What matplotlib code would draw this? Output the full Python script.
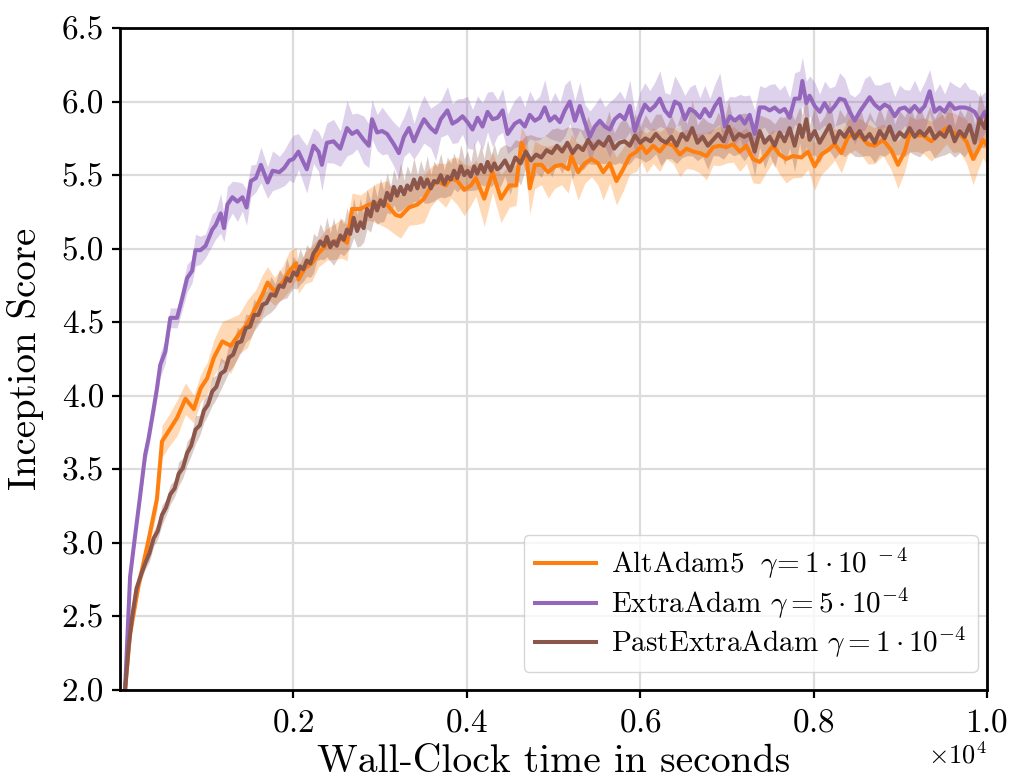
import numpy as np
import matplotlib
matplotlib.use("Agg")
import matplotlib.pyplot as plt
from matplotlib.ticker import ScalarFormatter

plt.rcParams['font.family'] = 'serif'
plt.rcParams['font.serif'] = ['cmr10']
plt.rcParams['mathtext.fontset'] = 'cm'
plt.rcParams['axes.unicode_minus'] = False
plt.rcParams['axes.formatter.use_mathtext'] = True

# AltAdam5, gamma = 1e-4  (time in seconds, mean inception score, spread)
alt_t = [58, 116, 213, 329, 426, 484, 561, 658, 755, 851,
         929, 1006, 1083, 1180, 1277, 1373, 1470, 1567, 1644, 1702,
         1780, 1876, 1954, 2031, 2058, 2135, 2212, 2290, 2386, 2483,
         2560, 2618, 2676, 2772, 2869, 2965, 3081, 3178, 3236, 3332,
         3429, 3506, 3583, 3660, 3757, 3815, 3892, 3969, 4046, 4104,
         4201, 4297, 4394, 4490, 4568, 4630, 4688, 4726, 4784, 4861,
         4938, 5015, 5092, 5169, 5207, 5284, 5361, 5438, 5515, 5572,
         5649, 5726, 5803, 5880, 5957, 6015, 6072, 6149, 6226, 6303,
         6380, 6457, 6534, 6611, 6688, 6764, 6841, 6918, 6995, 7072,
         7149, 7224, 7301, 7378, 7454, 7531, 7608, 7685, 7762, 7858,
         7935, 8012, 8089, 8166, 8243, 8320, 8397, 8473, 8550, 8627,
         8704, 8800, 8896, 8973, 9050, 9108, 9185, 9262, 9358, 9454,
         9531, 9608, 9685, 9762, 9839, 9896, 9954, 10000]
alt_is = [2.00, 2.38, 2.71, 3.02, 3.30, 3.69, 3.76, 3.85, 3.98, 3.91,
          4.05, 4.12, 4.26, 4.37, 4.34, 4.42, 4.49, 4.60, 4.69, 4.77,
          4.71, 4.77, 4.85, 4.90, 4.79, 4.87, 4.90, 4.97, 5.03, 5.05,
          5.07, 5.04, 5.27, 5.27, 5.30, 5.31, 5.30, 5.23, 5.22, 5.28,
          5.30, 5.34, 5.42, 5.46, 5.43, 5.48, 5.46, 5.40, 5.43, 5.48,
          5.34, 5.52, 5.34, 5.43, 5.43, 5.72, 5.63, 5.41, 5.57, 5.57,
          5.52, 5.56, 5.57, 5.54, 5.63, 5.52, 5.58, 5.61, 5.58, 5.52,
          5.58, 5.46, 5.54, 5.63, 5.66, 5.70, 5.65, 5.70, 5.66, 5.72,
          5.70, 5.64, 5.68, 5.66, 5.65, 5.63, 5.69, 5.70, 5.69, 5.71,
          5.66, 5.70, 5.61, 5.59, 5.64, 5.70, 5.64, 5.61, 5.63, 5.62,
          5.66, 5.56, 5.64, 5.67, 5.71, 5.65, 5.76, 5.78, 5.76, 5.71,
          5.70, 5.74, 5.67, 5.57, 5.66, 5.78, 5.77, 5.77, 5.73, 5.78,
          5.82, 5.79, 5.78, 5.73, 5.61, 5.67, 5.74, 5.70]
alt_sd = [0.01, 0.03, 0.04, 0.05, 0.06, 0.08, 0.08, 0.09, 0.08, 0.07,
          0.07, 0.08, 0.09, 0.10, 0.14, 0.10, 0.12, 0.09, 0.10, 0.08,
          0.07, 0.08, 0.10, 0.08, 0.07, 0.08, 0.09, 0.07, 0.08, 0.09,
          0.10, 0.09, 0.08, 0.07, 0.08, 0.10, 0.12, 0.10, 0.11, 0.09,
          0.10, 0.12, 0.10, 0.09, 0.11, 0.10, 0.12, 0.13, 0.10, 0.09,
          0.14, 0.10, 0.12, 0.11, 0.10, 0.08, 0.10, 0.13, 0.12, 0.10,
          0.13, 0.11, 0.10, 0.12, 0.11, 0.14, 0.10, 0.09, 0.11, 0.14,
          0.10, 0.12, 0.11, 0.09, 0.10, 0.08, 0.10, 0.09, 0.10, 0.08,
          0.09, 0.11, 0.10, 0.09, 0.10, 0.12, 0.09, 0.10, 0.08, 0.09,
          0.10, 0.09, 0.12, 0.11, 0.09, 0.08, 0.10, 0.12, 0.11, 0.10,
          0.09, 0.12, 0.10, 0.09, 0.08, 0.10, 0.09, 0.08, 0.09, 0.10,
          0.09, 0.08, 0.10, 0.12, 0.10, 0.09, 0.08, 0.09, 0.10, 0.09,
          0.08, 0.10, 0.09, 0.11, 0.13, 0.10, 0.09, 0.10]

# ExtraAdam, gamma = 5e-4
extra_t = [58, 116, 174, 232, 290, 329, 387, 426, 464, 522,
           580, 658, 716, 774, 832, 870, 929, 987, 1064, 1103,
           1161, 1199, 1238, 1296, 1354, 1412, 1459, 1509, 1567, 1625,
           1702, 1760, 1838, 1896, 1954, 2000, 2058, 2097, 2154, 2232,
           2290, 2328, 2386, 2463, 2541, 2618, 2676, 2734, 2811, 2869,
           2907, 2965, 3023, 3081, 3158, 3216, 3274, 3332, 3390, 3448,
           3506, 3583, 3641, 3699, 3776, 3834, 3892, 3950, 4008, 4066,
           4124, 4181, 4239, 4297, 4355, 4413, 4471, 4553, 4611, 4669,
           4726, 4784, 4842, 4899, 4957, 5015, 5073, 5130, 5188, 5246,
           5303, 5361, 5419, 5476, 5534, 5592, 5649, 5707, 5765, 5822,
           5880, 5938, 5995, 6053, 6111, 6169, 6226, 6284, 6342, 6399,
           6457, 6515, 6572, 6630, 6688, 6745, 6803, 6861, 6918, 6976,
           7034, 7091, 7149, 7205, 7262, 7320, 7378, 7435, 7493, 7551,
           7608, 7666, 7724, 7781, 7839, 7870, 7916, 7954, 8012, 8070,
           8127, 8185, 8243, 8300, 8358, 8416, 8473, 8531, 8589, 8646,
           8704, 8762, 8819, 8877, 8935, 8992, 9050, 9108, 9165, 9223,
           9281, 9339, 9396, 9454, 9512, 9569, 9627, 9685, 9742, 9800,
           9858, 9916, 9973, 10000]
extra_is = [2.00, 2.77, 3.05, 3.32, 3.60, 3.71, 3.91, 4.05, 4.21, 4.30,
            4.53, 4.53, 4.66, 4.80, 4.85, 4.99, 4.99, 5.02, 5.13, 5.16,
            5.24, 5.14, 5.30, 5.35, 5.32, 5.35, 5.28, 5.46, 5.48, 5.57,
            5.45, 5.53, 5.52, 5.55, 5.60, 5.61, 5.66, 5.61, 5.54, 5.70,
            5.66, 5.57, 5.72, 5.73, 5.68, 5.82, 5.78, 5.80, 5.74, 5.70,
            5.88, 5.79, 5.80, 5.78, 5.71, 5.65, 5.76, 5.82, 5.73, 5.81,
            5.88, 5.82, 5.79, 5.88, 5.94, 5.85, 5.87, 5.90, 5.86, 5.81,
            5.89, 5.83, 5.93, 5.88, 5.89, 5.94, 5.78, 5.85, 5.87, 5.83,
            5.91, 5.87, 5.89, 5.96, 5.87, 5.90, 5.86, 5.94, 6.00, 5.87,
            5.97, 5.86, 5.76, 5.83, 5.87, 5.83, 5.81, 5.88, 5.91, 5.88,
            5.97, 5.80, 5.90, 5.98, 5.94, 5.97, 6.02, 5.94, 5.90, 6.00,
            5.98, 5.88, 5.95, 5.93, 5.89, 5.95, 5.90, 5.97, 6.02, 5.83,
            5.90, 5.87, 5.90, 5.85, 5.91, 5.78, 5.96, 5.96, 5.94, 5.96,
            5.93, 5.95, 5.89, 6.02, 6.02, 6.14, 5.99, 6.04, 5.97, 5.93,
            5.99, 5.93, 5.97, 6.02, 6.01, 5.93, 5.87, 5.93, 5.98, 6.03,
            5.98, 5.95, 5.98, 5.96, 5.90, 5.95, 5.96, 5.93, 5.97, 5.93,
            5.97, 6.07, 5.93, 5.96, 5.93, 5.99, 5.95, 5.96, 5.96, 5.95,
            5.93, 5.87, 5.93, 5.88]
extra_sd = [0.01, 0.04, 0.04, 0.05, 0.05, 0.05, 0.05, 0.05, 0.06, 0.06,
            0.05, 0.05, 0.06, 0.07, 0.06, 0.08, 0.07, 0.06, 0.08, 0.07,
            0.10, 0.07, 0.09, 0.08, 0.10, 0.07, 0.09, 0.08, 0.07, 0.09,
            0.08, 0.10, 0.08, 0.09, 0.10, 0.12, 0.09, 0.10, 0.12, 0.09,
            0.10, 0.13, 0.10, 0.11, 0.09, 0.14, 0.10, 0.09, 0.12, 0.11,
            0.10, 0.09, 0.12, 0.10, 0.11, 0.13, 0.10, 0.12, 0.09, 0.11,
            0.12, 0.10, 0.14, 0.09, 0.12, 0.10, 0.11, 0.09, 0.13, 0.10,
            0.11, 0.12, 0.10, 0.14, 0.09, 0.11, 0.10, 0.12, 0.13, 0.10,
            0.12, 0.10, 0.11, 0.14, 0.09, 0.12, 0.10, 0.13, 0.11, 0.10,
            0.12, 0.09, 0.13, 0.11, 0.12, 0.10, 0.14, 0.11, 0.12, 0.10,
            0.13, 0.10, 0.12, 0.11, 0.10, 0.12, 0.14, 0.09, 0.11, 0.13,
            0.10, 0.12, 0.11, 0.14, 0.10, 0.12, 0.09, 0.11, 0.13, 0.12,
            0.10, 0.12, 0.11, 0.14, 0.10, 0.12, 0.11, 0.10, 0.13, 0.12,
            0.11, 0.12, 0.10, 0.13, 0.14, 0.12, 0.11, 0.10, 0.12, 0.09,
            0.11, 0.12, 0.10, 0.13, 0.11, 0.09, 0.12, 0.10, 0.13, 0.11,
            0.10, 0.12, 0.11, 0.13, 0.10, 0.12, 0.09, 0.11, 0.13, 0.10,
            0.12, 0.11, 0.10, 0.12, 0.09, 0.11, 0.12, 0.10, 0.13, 0.10,
            0.11, 0.12, 0.10, 0.12]

# PastExtraAdam, gamma = 1e-4
past_t = [58, 100, 140, 190, 240, 290, 340, 387, 435, 484,
          530, 580, 630, 677, 725, 774, 820, 871, 920, 968,
          1015, 1064, 1110, 1161, 1210, 1257, 1305, 1354, 1400, 1451,
          1500, 1547, 1595, 1644, 1690, 1741, 1790, 1838, 1885, 1923,
          1960, 2000, 2040, 2077, 2115, 2154, 2195, 2232, 2270, 2309,
          2350, 2386, 2425, 2463, 2500, 2541, 2580, 2618, 2655, 2695,
          2735, 2772, 2810, 2849, 2890, 2927, 2965, 3004, 3040, 3081,
          3120, 3158, 3195, 3236, 3275, 3313, 3350, 3390, 3430, 3467,
          3505, 3544, 3585, 3621, 3660, 3699, 3740, 3776, 3815, 3853,
          3890, 3931, 3970, 4008, 4045, 4085, 4120, 4162, 4200, 4239,
          4280, 4317, 4350,
          4380, 4440, 4500, 4560, 4620, 4680, 4740, 4800, 4860, 4920,
          4980, 5040, 5100, 5160, 5220, 5280, 5340, 5400, 5460, 5520,
          5580, 5640, 5700, 5760, 5820, 5880, 5940, 6000, 6060, 6120,
          6180, 6240, 6300, 6360, 6420, 6480, 6540, 6600, 6660, 6720,
          6780, 6840, 6900, 6960, 7020, 7080, 7140, 7200,
          7262, 7320, 7378, 7435, 7493, 7551, 7608, 7666, 7724, 7781,
          7839, 7870, 7916, 7954, 8012, 8070, 8127, 8185, 8243, 8300,
          8358, 8416, 8473, 8531, 8589, 8646, 8704, 8762, 8819, 8877,
          8935, 8992, 9050, 9108, 9165, 9223, 9281, 9339, 9396, 9454,
          9512, 9569, 9627, 9685, 9742, 9800, 9858, 9916, 9973, 10000]
past_is = [2.00, 2.30, 2.50, 2.69, 2.78, 2.86, 2.93, 3.03, 3.08, 3.19,
           3.24, 3.33, 3.37, 3.47, 3.51, 3.61, 3.66, 3.77, 3.80, 3.90,
           3.94, 4.03, 4.06, 4.15, 4.17, 4.26, 4.28, 4.36, 4.37, 4.46,
           4.47, 4.55, 4.55, 4.62, 4.63, 4.69, 4.68, 4.75, 4.74, 4.80,
           4.78, 4.84, 4.82, 4.88, 4.86, 4.92, 4.90, 4.97, 5.00, 5.05,
           5.02, 5.08, 5.01, 5.05, 5.02, 5.09, 5.06, 5.13, 5.10, 5.21,
           5.12, 5.18, 5.14, 5.27, 5.22, 5.32, 5.26, 5.33, 5.29, 5.38,
           5.33, 5.42, 5.36, 5.42, 5.37, 5.43, 5.40, 5.47, 5.41, 5.48,
           5.42, 5.47, 5.41, 5.46, 5.45, 5.50, 5.44, 5.49, 5.47, 5.53,
           5.48, 5.56, 5.50, 5.53, 5.49, 5.56, 5.51, 5.57, 5.52, 5.59,
           5.53, 5.58, 5.54,
           5.55, 5.60, 5.53, 5.62, 5.58, 5.66, 5.60, 5.64, 5.62, 5.67,
           5.65, 5.70, 5.66, 5.72, 5.65, 5.70, 5.67, 5.74, 5.68, 5.73,
           5.70, 5.76, 5.68, 5.72, 5.73, 5.70, 5.77, 5.72, 5.75, 5.73,
           5.78, 5.74, 5.72, 5.76, 5.70, 5.78, 5.74, 5.82, 5.72, 5.76,
           5.70, 5.74, 5.78, 5.73, 5.83, 5.74, 5.78, 5.76,
           5.78, 5.66, 5.80, 5.72, 5.76, 5.70, 5.79, 5.73, 5.82, 5.70,
           5.84, 5.76, 5.88, 5.74, 5.80, 5.72, 5.78, 5.84, 5.72, 5.80,
           5.76, 5.82, 5.75, 5.80, 5.74, 5.78, 5.72, 5.80, 5.75, 5.83,
           5.74, 5.79, 5.76, 5.82, 5.76, 5.80, 5.77, 5.82, 5.75, 5.79,
           5.76, 5.83, 5.73, 5.80, 5.76, 5.84, 5.72, 5.88, 5.82, 5.90]
past_sd = [0.01, 0.02, 0.03, 0.03, 0.03, 0.03, 0.04, 0.04, 0.04, 0.05,
           0.04, 0.05, 0.04, 0.06, 0.05, 0.06, 0.05, 0.07, 0.05, 0.06,
           0.05, 0.07, 0.06, 0.08, 0.05, 0.07, 0.06, 0.08, 0.05, 0.07,
           0.06, 0.08, 0.05, 0.07, 0.06, 0.09, 0.06, 0.08, 0.06, 0.10,
           0.06, 0.08, 0.07, 0.09, 0.06, 0.08, 0.07, 0.10, 0.06, 0.09,
           0.07, 0.10, 0.07, 0.12, 0.07, 0.09, 0.08, 0.11, 0.07, 0.10,
           0.08, 0.12, 0.07, 0.10, 0.08, 0.09, 0.07, 0.11, 0.08, 0.10,
           0.07, 0.09, 0.08, 0.12, 0.07, 0.10, 0.08, 0.11, 0.07, 0.09,
           0.08, 0.12, 0.07, 0.10, 0.08, 0.11, 0.07, 0.10, 0.08, 0.09,
           0.07, 0.11, 0.08, 0.10, 0.07, 0.12, 0.08, 0.10, 0.07, 0.11,
           0.08, 0.10, 0.07,
           0.10, 0.08, 0.12, 0.09, 0.11, 0.08, 0.13, 0.09, 0.10, 0.08,
           0.12, 0.09, 0.11, 0.08, 0.13, 0.09, 0.10, 0.12, 0.08, 0.11,
           0.09, 0.13, 0.08, 0.10, 0.12, 0.09, 0.11, 0.08, 0.12, 0.09,
           0.10, 0.13, 0.08, 0.11, 0.09, 0.12, 0.08, 0.14, 0.09, 0.10,
           0.12, 0.08, 0.11, 0.09, 0.13, 0.08, 0.10, 0.12,
           0.10, 0.12, 0.08, 0.13, 0.09, 0.11, 0.08, 0.12, 0.10, 0.13,
           0.09, 0.11, 0.14, 0.08, 0.12, 0.10, 0.09, 0.13, 0.08, 0.11,
           0.10, 0.12, 0.09, 0.13, 0.08, 0.11, 0.10, 0.12, 0.09, 0.13,
           0.08, 0.11, 0.10, 0.12, 0.09, 0.13, 0.08, 0.11, 0.10, 0.12,
           0.09, 0.13, 0.08, 0.11, 0.10, 0.12, 0.09, 0.14, 0.10, 0.12]

labels = [r'AltAdam5 $\;\gamma\!= 1\cdot 10^{\ -4}$',
          r'ExtraAdam $\gamma = 5\cdot 10^{-4}$',
          r'PastExtraAdam $\gamma = 1\cdot 10^{-4}$']
colors = ['#ff7f0e', '#9467bd', '#8c564b']
band_scale = 1.35  # shaded band drawn a bit wider than the read spread

fig = plt.figure(figsize=(10.12, 7.81), dpi=100)
ax = fig.add_axes([0.1186, 0.1165, 0.8567, 0.8476])

series = [(alt_t, alt_is, alt_sd), (extra_t, extra_is, extra_sd), (past_t, past_is, past_sd)]
for (t, m, s), lab, c in zip(series, labels, colors):
    t = np.array(t)
    m = np.array(m)
    s = np.array(s) * band_scale
    ax.fill_between(t, m - s, m + s, color=c, alpha=0.3, linewidth=0)
    ax.plot(t, m, color=c, linewidth=2.9, label=lab)

ax.set_xlim(0, 10000)
ax.set_ylim(2.0, 6.5)
ax.set_xticks([2000, 4000, 6000, 8000, 10000])
ax.set_yticks(np.arange(2.0, 6.51, 0.5))
fmt = ScalarFormatter(useMathText=True)
fmt.set_powerlimits((0, 0))
ax.xaxis.set_major_formatter(fmt)
ax.yaxis.set_major_formatter(plt.FormatStrFormatter('%.1f'))
ax.xaxis.get_offset_text().set_fontsize(19)

ax.grid(True, color='#dcdcdc', linewidth=1.6)
ax.set_axisbelow(True)
for sp in ax.spines.values():
    sp.set_linewidth(2.0)
ax.tick_params(labelsize=24, width=1.6, length=6, direction='out')
ax.tick_params(axis='x', pad=7)
ax.tick_params(axis='y', pad=5.5)

ax.set_xlabel('Wall-Clock time in seconds', fontsize=28.5, labelpad=5)
ax.set_ylabel('Inception Score', fontsize=28)
ax.yaxis.set_label_coords(-0.088, 0.5)

ax.legend(loc='lower right', bbox_to_anchor=(0.9896, 0.027), borderaxespad=0,
          fontsize=21, handlelength=2.1, handletextpad=0.5, labelspacing=0.15,
          framealpha=0.8, edgecolor='#cccccc')

fig.savefig('out.png', dpi=100)
